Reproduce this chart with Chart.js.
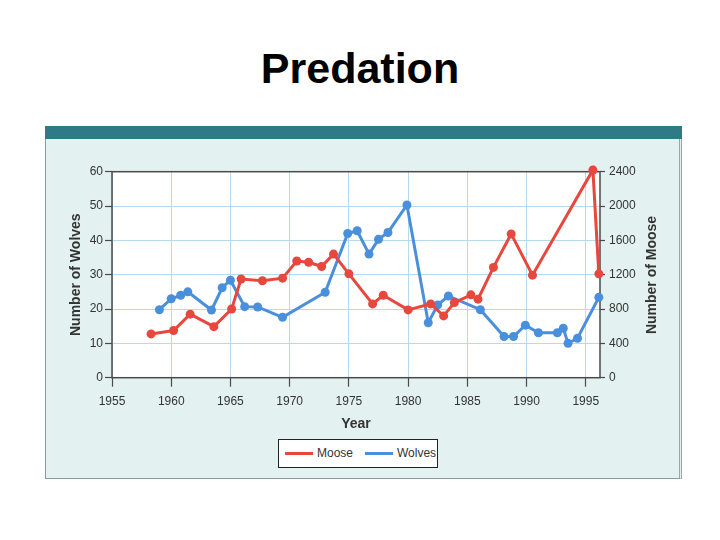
<!DOCTYPE html>
<html>
<head>
<meta charset="utf-8">
<title>Predation</title>
<script src="https://cdn.jsdelivr.net/npm/chart.js@4.4.1/dist/chart.umd.min.js"></script>
<style>
  html, body { margin: 0; padding: 0; background: #fff; }
  #page { position: relative; width: 720px; height: 540px; overflow: hidden; font-family: 'Liberation Sans', Arial, sans-serif; }
  #title { position: absolute; left: 0; top: 44px; width: 720px; height: 48px; line-height: 48px; text-align: center; font-size: 43px; font-weight: bold; color: #000; }
  #panel { position: absolute; left: 45px; top: 126px; width: 637px; height: 353px; box-sizing: border-box; background: #e4f1f1; border: 1px solid #8c9a9a; border-right: 3px double #9aa6a6; }
  #bar { position: absolute; left: 45px; top: 126px; width: 637px; height: 13px; background: #2e7a86; }
  #chart { position: absolute; left: 0; top: 0; }
  #mooseTitle { position: absolute; left: 580px; top: 266px; width: 142px; height: 18px; line-height: 18px; text-align: center; font-size: 14px; font-weight: bold; color: #333; transform: rotate(-90deg); transform-origin: 50% 50%; }
  #legend { position: absolute; left: 278px; top: 439px; width: 160px; height: 29px; box-sizing: border-box; background: #fff; border: 1.5px solid #222; }
  #legend .ln { position: absolute; top: 12px; width: 28px; height: 3px; }
  #legend .tx { position: absolute; top: 0; height: 26px; line-height: 26px; font-size: 12px; color: #333; }
</style>
</head>
<body>
<div id="page">
  <div id="title">Predation</div>
  <div id="panel"></div>
  <div id="bar"></div>
  <canvas id="chart" width="720" height="540"></canvas>
  <div id="mooseTitle">Number of Moose</div>
  <div id="legend">
    <span class="ln" style="left:6px;background:#e8473d"></span><span class="tx" style="left:38px">Moose</span>
    <span class="ln" style="left:86px;background:#4a8fdb"></span><span class="tx" style="left:118px">Wolves</span>
  </div>
</div>
<script>
// ---------- Dades ----------
const mooseYears = [1958.3, 1960.2, 1961.6, 1963.6, 1965.1, 1965.9, 1967.7, 1969.4, 1970.6, 1971.6,
  1972.7, 1973.7, 1975.0, 1977.0, 1977.9, 1980.0, 1981.9, 1983.0, 1983.9, 1985.3,
  1985.9, 1987.2, 1988.7, 1990.5, 1995.6, 1996.1];
const mooseCounts = [510, 550, 740, 595, 800, 1150, 1130, 1160, 1360, 1345,
  1295, 1440, 1210, 860, 960, 790, 860, 720, 875, 965,
  915, 1285, 1675, 1195, 2420, 1210];

const wolfYears = [1959.0, 1960.0, 1960.8, 1961.4, 1963.4, 1964.3, 1965.0, 1966.2, 1967.3, 1969.4,
  1973.0, 1974.9, 1975.7, 1976.7, 1977.5, 1978.3, 1979.9, 1981.7, 1982.5, 1983.4,
  1986.1, 1988.1, 1988.9, 1989.9, 1991.0, 1992.6, 1993.1, 1993.5, 1994.3, 1996.1];
const wolfCounts = [19.8, 23, 24, 25, 19.7, 26.2, 28.4, 20.7, 20.6, 17.6,
  24.9, 42, 42.8, 36, 40.3, 42.3, 50.3, 16, 21.2, 23.8,
  19.8, 12, 12, 15.3, 13.1, 13.1, 14.4, 10, 11.5, 23.4];

const yearTicks = [1955, 1960, 1965, 1970, 1975, 1980, 1985, 1990, 1995];
const wolfTicks = [0, 10, 20, 30, 40, 50, 60];
const mooseTicks = [0, 400, 800, 1200, 1600, 2000, 2400];

// ---------- Estils ----------
const red = '#e8473d';
const blue = '#4a8fdb';
const gridBlue = '#b7dbee';
const axisColor = '#4a4a4a';
const textColor = '#333';
const tickFont = { family: "'Liberation Sans', Arial, sans-serif", size: 12 };
const titleFont = { family: "'Liberation Sans', Arial, sans-serif", size: 14, weight: 'bold' };

const toTicks = list => scale => { scale.ticks = list.map(v => ({ value: v })); };
const plain = v => String(v);

// fons blanc i marc de l'area del grafic
const plotFrame = {
  id: 'plotFrame',
  beforeDraw(chart) {
    const { ctx, chartArea: a } = chart;
    ctx.save();
    ctx.fillStyle = '#fff';
    ctx.fillRect(a.left, a.top, a.width, a.height);
    ctx.restore();
  },
  beforeDatasetsDraw(chart) {
    const { ctx, chartArea: a } = chart;
    ctx.save();
    ctx.strokeStyle = axisColor;
    ctx.lineWidth = 1.5;
    ctx.strokeRect(a.left, a.top, a.width, a.height);
    ctx.restore();
  }
};

const series = (label, xs, ys, color, axis) => ({
  label: label,
  data: xs.map((x, i) => ({ x: x, y: ys[i] })),
  yAxisID: axis,
  borderColor: color,
  backgroundColor: color,
  pointBackgroundColor: color,
  borderWidth: 3,
  pointRadius: 4.5,
  pointBorderWidth: 0,
  tension: 0,
  clip: false
});

new Chart(document.getElementById('chart').getContext('2d'), {
  type: 'line',
  data: {
    datasets: [
      series('Moose', mooseYears, mooseCounts, red, 'yMoose'),
      series('Wolves', wolfYears, wolfCounts, blue, 'yWolves')
    ]
  },
  options: {
    responsive: false,
    animation: false,
    layout: { padding: { left: 60, right: 60, top: 171.7, bottom: 100 } },
    plugins: {
      legend: { display: false },
      tooltip: { enabled: false }
    },
    scales: {
      x: {
        type: 'linear',
        min: 1955,
        max: 1996.2,
        afterBuildTicks: toTicks(yearTicks),
        afterFit: s => { s.height = 62.3; },
        border: { display: false },
        grid: { color: gridBlue, lineWidth: 1, tickColor: axisColor, tickLength: 9, tickWidth: 1.2 },
        ticks: { font: tickFont, color: textColor, padding: 8, maxRotation: 0, autoSkip: false, callback: plain },
        title: { display: true, text: 'Year', font: titleFont, color: textColor, padding: { top: 0, bottom: 7 } }
      },
      yWolves: {
        position: 'left',
        min: 0,
        max: 60,
        afterBuildTicks: toTicks(wolfTicks),
        afterFit: s => { s.width = 52; },
        border: { display: false },
        grid: { color: gridBlue, lineWidth: 1, tickColor: axisColor, tickLength: 7, tickWidth: 1.2 },
        ticks: { font: tickFont, color: textColor, padding: 2, callback: plain },
        title: { display: true, text: 'Number of Wolves', font: titleFont, color: textColor, padding: { top: 7.6, bottom: 0 } }
      },
      yMoose: {
        position: 'right',
        min: 0,
        max: 2400,
        afterBuildTicks: toTicks(mooseTicks),
        afterFit: s => { s.width = 60; },
        border: { display: false },
        grid: { drawOnChartArea: false, tickColor: axisColor, tickLength: 5, tickWidth: 1.2 },
        ticks: { font: tickFont, color: textColor, padding: 4, callback: plain }
      }
    }
  },
  plugins: [plotFrame]
});
</script>
</body>
</html>
